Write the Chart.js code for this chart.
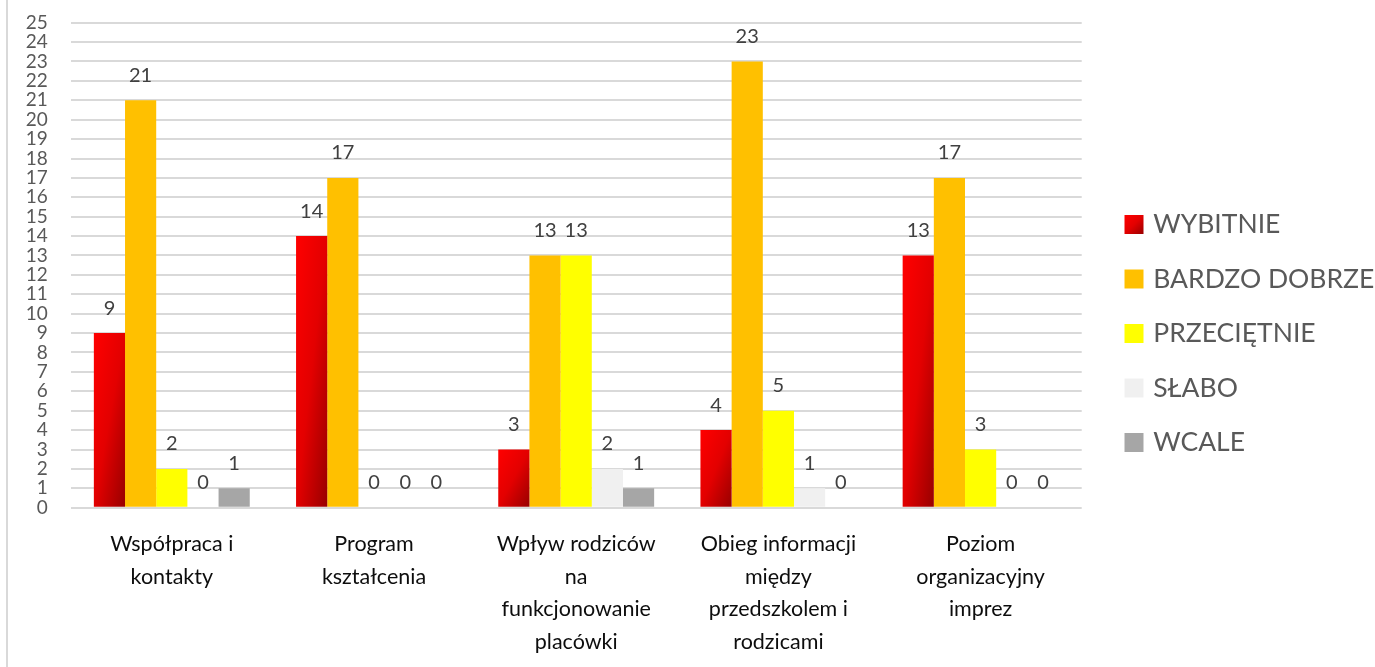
<!DOCTYPE html>
<html><head><meta charset="utf-8">
<script src="https://cdn.jsdelivr.net/npm/chart.js@4.4.0/dist/chart.umd.min.js"></script>
<style>
html,body{margin:0;padding:0;background:#fff;}
#wrap{position:relative;width:1375px;height:667px;overflow:hidden;}
#frame{position:absolute;left:6px;top:0;width:2px;height:667px;background:#d9d9d9;}
canvas{position:absolute;left:0;top:0;}
</style></head><body>
<div id="wrap"><div id="frame"></div><canvas id="c" width="1375" height="667"></canvas></div>
<script>
const categories = [
  ["Współpraca i","kontakty"],
  ["Program","kształcenia"],
  ["Wpływ rodziców","na","funkcjonowanie","placówki"],
  ["Obieg informacji","między","przedszkolem i","rodzicami"],
  ["Poziom","organizacyjny","imprez"]
];
const seriesNames = ["WYBITNIE","BARDZO DOBRZE","PRZECIĘTNIE","SŁABO","WCALE"];
const wybitnie     = [9, 14, 3, 4, 13];
const bardzoDobrze = [21, 17, 13, 23, 17];
const przecietnie  = [2, 0, 13, 5, 3];
const slabo        = [0, 0, 2, 1, 0];
const wcale        = [1, 0, 1, 0, 0];
const yMin = 0, yMax = 25, yStep = 1;

const FONT = 'Lato';
const seriesColors = ['#e00000', '#FFC000', '#FFFF00', '#F0F0F0', '#A6A6A6'];

function diagGradient(ctx, left, top, w, h) {
  const cx = left + w / 2, cy = top + h / 2;
  const L2 = w * w + h * h || 1;
  const k = (w * h) / L2;
  const g = ctx.createLinearGradient(cx - k * h, cy - k * w, cx + k * h, cy + k * w);
  g.addColorStop(0, '#ff0000');
  g.addColorStop(0.5, '#e30000');
  g.addColorStop(1, '#980000');
  return g;
}

const gradientPlugin = {
  id: 'redGradient',
  beforeDraw(chart) {
    const ctx = chart.ctx;
    const lg = chart.legend;
    if (lg && lg.legendItems && lg.legendItems.length) {
      const o = lg.options.labels;
      const pad = o.padding, fs = o.font.size, bh = o.boxHeight, bw = o.boxWidth;
      const colH = lg.columnSizes[0].height;
      const y0 = (lg.top + pad + lg.bottom - colH) / 2;
      const cx = lg.left + pad + bw / 2, cy = y0 + fs / 2;
      lg.legendItems[0].fillStyle = diagGradient(ctx, cx - bh / 2, cy - bh / 2, bh, bh);
    }
  },
  beforeDatasetsDraw(chart) {
    const ctx = chart.ctx;
    const meta = chart.getDatasetMeta(0);
    meta.data.forEach(el => {
      const p = el.getProps(['x', 'y', 'base', 'width'], true);
      const left = p.x - p.width / 2;
      const top = Math.min(p.y, p.base), h = Math.abs(p.base - p.y);
      el.options.backgroundColor = diagGradient(ctx, left, top, p.width, h);
    });
  }
};

const valueLabels = {
  id: 'valueLabels',
  afterDatasetsDraw(chart) {
    const ctx = chart.ctx;
    ctx.save();
    ctx.font = '20px ' + FONT;
    ctx.fillStyle = '#404040';
    ctx.textAlign = 'center';
    ctx.textBaseline = 'middle';
    chart.data.datasets.forEach((ds, i) => {
      const meta = chart.getDatasetMeta(i);
      meta.data.forEach((el, j) => {
        ctx.fillText(String(ds.data[j]), el.x, el.y - 25);
      });
    });
    ctx.restore();
  }
};

const datasets = [wybitnie, bardzoDobrze, przecietnie, slabo, wcale].map((d, i) => ({
  label: seriesNames[i],
  data: d,
  backgroundColor: i === 0 ? (() => seriesColors[0]) : seriesColors[i],
  borderWidth: 0,
  categoryPercentage: 0.771,
  barPercentage: 1.0
}));

new Chart(document.getElementById('c'), {
  type: 'bar',
  data: { labels: categories, datasets },
  plugins: [gradientPlugin, valueLabels],
  options: {
    responsive: false,
    animation: false,
    devicePixelRatio: 1,
    layout: { padding: { left: 0, top: 8, right: 0, bottom: 8 } },
    plugins: {
      tooltip: { enabled: false },
      legend: {
        position: 'right',
        align: 'center',
        maxWidth: 1375 - 1128 + 28,
        labels: {
          font: { family: FONT, size: 26.5 },
          color: '#595959',
          usePointStyle: true,
          pointStyle: 'rect',
          boxWidth: 12,
          boxHeight: 19,
          padding: 28
        }
      }
    },
    scales: {
      x: {
        grid: { display: false, drawTicks: false },
        border: { display: false },
        ticks: {
          font: { family: FONT, size: 21.5, lineHeight: '32.5px' },
          color: '#0d0d0d',
          padding: 20.5,
          maxRotation: 0,
          autoSkip: false
        },
        afterFit(s) { s.height = 667 - 8 - 507.7; s.paddingLeft = 0; s.paddingRight = 0; }
      },
      y: {
        min: yMin, max: yMax,
        grid: { color: '#d9d9d9', lineWidth: 2, drawTicks: false },
        border: { display: false },
        ticks: {
          stepSize: yStep,
          autoSkip: false,
          font: { family: FONT, size: 19 },
          color: '#595959',
          padding: 23
        },
        afterFit(s) { s.width = 70.7; s.paddingTop = 22.7; s.paddingBottom = 0; }
      },
      y2: {
        position: 'right',
        display: true,
        grid: { display: false, drawTicks: false },
        border: { display: false },
        ticks: { display: false },
        afterFit(s) { s.width = 1128 - 28 - 1081.7; s.paddingTop = 0; s.paddingBottom = 0; }
      }
    }
  }
});
</script>
</body></html>
